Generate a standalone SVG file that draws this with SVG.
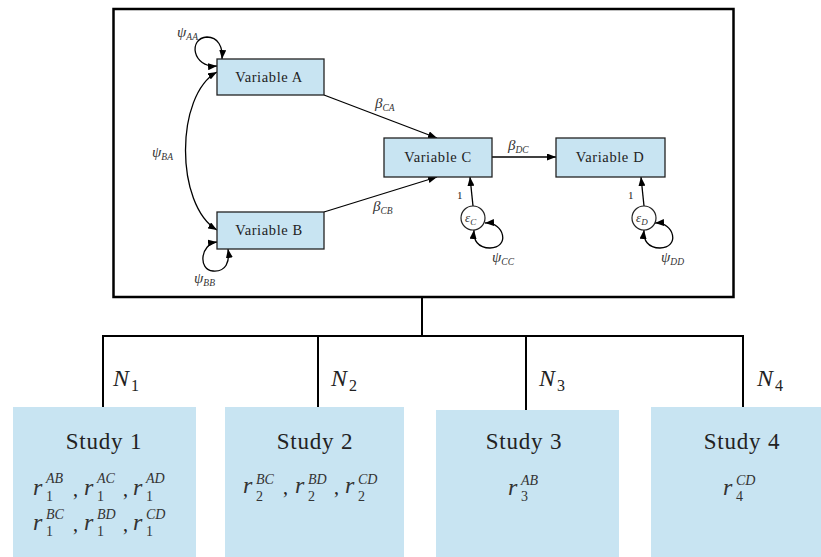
<svg xmlns="http://www.w3.org/2000/svg" width="821" height="557" viewBox="0 0 821 557">
  <defs>
    <marker id="arrow" viewBox="0 0 9 7" refX="9" refY="3.5" markerWidth="9" markerHeight="7" markerUnits="userSpaceOnUse" orient="auto-start-reverse">
      <path d="M0,0 L9,3.5 L0,7 z" fill="#000"/>
    </marker>
  </defs>
  <style>
    text { font-family: 'Liberation Serif', 'DejaVu Serif', 'Noto Serif', 'Noto Sans', serif; }
    .frame { fill: none; stroke: #000; stroke-width: 2.5; }
    .tree { fill: none; stroke: #000; stroke-width: 2; }
    .var rect { fill: #c8e4f2; stroke: #222; stroke-width: 1.3; }
    .var text { font-size: 14.5px; fill: #222; text-anchor: middle; letter-spacing: 0.6px; }
    .err circle { fill: #fff; stroke: #222; stroke-width: 1.2; }
    .edge { fill: none; stroke: #000; stroke-width: 1.3; }
    .arr { marker-end: url(#arrow); }
    .both { marker-start: url(#arrow); marker-end: url(#arrow); }
    .m { font-style: italic; fill: #333; }
    .g { font-size: 15px; }
    .s { font-size: 9.5px; }
    .one { font-size: 11px; fill: #222; }
    .study rect { fill: #c8e4f2; }
    .title { font-size: 23px; fill: #222; text-anchor: middle; letter-spacing: 0.8px; }
    .r { font-size: 24px; }
    .sup { font-size: 14px; }
    .sub { font-style: normal; font-size: 14px; }
    .comma { font-size: 20px; fill: #222; }
    .N { font-size: 24px; fill: #222; }
    .Ns { font-style: normal; font-size: 16px; fill: #222; }
  </style>

  <!-- path model frame -->
  <rect class="frame" x="113.5" y="9" width="620" height="288"/>

  <!-- connectors -->
  <g id="connectors">
    <line class="edge arr" x1="324" y1="95" x2="437" y2="138"/>
    <line class="edge arr" x1="324" y1="212" x2="437" y2="177"/>
    <line class="edge arr" x1="492" y1="157" x2="556" y2="157"/>
    <line class="edge arr" x1="473" y1="206" x2="470" y2="177"/>
    <line class="edge arr" x1="644" y1="206" x2="641" y2="177"/>
    <!-- covariance between A and B -->
    <path class="edge both" d="M217,72 C175,95 175,205 217,230"/>
    <!-- variance loops -->
    <path class="edge both" d="M217,66 C192,68 188,38 207,37 C218,37 223,47 222,59"/>
    <path class="edge both" d="M217,242 C200,244 198,270 213,271 C226,272 230,262 228,249"/>
    <path class="edge both" d="M485,223 C505,222 510,248 490,248 C478,248 473,240 474,230"/>
    <path class="edge both" d="M655,223 C675,222 680,248 660,248 C648,248 643,240 644,230"/>
    <!-- tree from the model to the studies -->
    <line class="tree" x1="422" y1="297" x2="422" y2="336"/>
    <line class="tree" x1="102" y1="336" x2="744" y2="336"/>
    <line class="tree" x1="103" y1="335" x2="103" y2="408"/>
    <line class="tree" x1="318" y1="335" x2="318" y2="408"/>
    <line class="tree" x1="526" y1="335" x2="526" y2="411"/>
    <line class="tree" x1="743" y1="335" x2="743" y2="408"/>
  </g>

  <!-- path labels -->
  <g id="path-labels">
    <text class="m g" x="177" y="37">ψ<tspan class="s" dy="3">AA</tspan></text>
    <text class="m g" x="152" y="157">ψ<tspan class="s" dy="3">BA</tspan></text>
    <text class="m g" x="194" y="283">ψ<tspan class="s" dy="3">BB</tspan></text>
    <text class="m g" x="492" y="262">ψ<tspan class="s" dy="3">CC</tspan></text>
    <text class="m g" x="661" y="262">ψ<tspan class="s" dy="3">DD</tspan></text>
    <text class="m g" x="375" y="108">β<tspan class="s" dy="3">CA</tspan></text>
    <text class="m g" x="373" y="211">β<tspan class="s" dy="3">CB</tspan></text>
    <text class="m g" x="508" y="150">β<tspan class="s" dy="3">DC</tspan></text>
    <text class="one" x="457" y="199">1</text>
    <text class="one" x="628" y="199">1</text>
  </g>

  <g id="var-a" class="var">
    <rect x="217" y="59" width="107" height="36"/>
    <text x="269" y="82">Variable A</text>
  </g>
  <g id="var-b" class="var">
    <rect x="217" y="212" width="107" height="37"/>
    <text x="269" y="235">Variable B</text>
  </g>
  <g id="var-c" class="var">
    <rect x="384" y="138" width="108" height="39"/>
    <text x="438" y="162">Variable C</text>
  </g>
  <g id="var-d" class="var">
    <rect x="556" y="138" width="109" height="39"/>
    <text x="610" y="162">Variable D</text>
  </g>

  <g id="err-c" class="err">
    <circle cx="473" cy="218" r="12"/>
    <text class="m" x="465" y="222" font-size="13">ε<tspan font-size="9" dy="3">C</tspan></text>
  </g>
  <g id="err-d" class="err">
    <circle cx="644" cy="218" r="12"/>
    <text class="m" x="636" y="222" font-size="13">ε<tspan font-size="9" dy="3">D</tspan></text>
  </g>

  <!-- sample size labels -->
  <g id="sample-sizes">
    <text class="m N" x="113" y="386">N</text><text class="Ns" x="131" y="391">1</text>
    <text class="m N" x="331" y="386">N</text><text class="Ns" x="349" y="391">2</text>
    <text class="m N" x="539" y="386">N</text><text class="Ns" x="557" y="391">3</text>
    <text class="m N" x="757" y="386">N</text><text class="Ns" x="775" y="391">4</text>
  </g>

  <g id="study-1" class="study">
    <rect x="13" y="407" width="183" height="150"/>
    <text class="title" x="104" y="449">Study 1</text>
    <text class="m r" x="33" y="495">r</text><text class="m sup" x="46" y="483">AB</text><text class="m sub" x="46" y="501">1</text><text class="comma" x="73" y="496">,</text>
    <text class="m r" x="84" y="495">r</text><text class="m sup" x="97" y="483">AC</text><text class="m sub" x="97" y="501">1</text><text class="comma" x="123" y="496">,</text>
    <text class="m r" x="133" y="495">r</text><text class="m sup" x="146" y="483">AD</text><text class="m sub" x="146" y="501">1</text>
    <text class="m r" x="33" y="530">r</text><text class="m sup" x="46" y="519">BC</text><text class="m sub" x="46" y="536">1</text><text class="comma" x="73" y="531">,</text>
    <text class="m r" x="84" y="530">r</text><text class="m sup" x="97" y="519">BD</text><text class="m sub" x="97" y="536">1</text><text class="comma" x="123" y="531">,</text>
    <text class="m r" x="133" y="530">r</text><text class="m sup" x="146" y="519">CD</text><text class="m sub" x="146" y="536">1</text>
  </g>

  <g id="study-2" class="study">
    <rect x="225" y="407" width="179" height="150"/>
    <text class="title" x="315" y="449">Study 2</text>
    <text class="m r" x="243" y="493">r</text><text class="m sup" x="256" y="484">BC</text><text class="m sub" x="256" y="501">2</text><text class="comma" x="283" y="494">,</text>
    <text class="m r" x="295" y="493">r</text><text class="m sup" x="308" y="484">BD</text><text class="m sub" x="308" y="501">2</text><text class="comma" x="334" y="494">,</text>
    <text class="m r" x="345" y="493">r</text><text class="m sup" x="358" y="484">CD</text><text class="m sub" x="358" y="501">2</text>
  </g>

  <g id="study-3" class="study">
    <rect x="436" y="410" width="183" height="147"/>
    <text class="title" x="524" y="449">Study 3</text>
    <text class="m r" x="508" y="495">r</text><text class="m sup" x="521" y="485">AB</text><text class="m sub" x="521" y="501">3</text>
  </g>

  <g id="study-4" class="study">
    <rect x="651" y="407" width="170" height="150"/>
    <text class="title" x="742" y="449">Study 4</text>
    <text class="m r" x="723" y="495">r</text><text class="m sup" x="736" y="485">CD</text><text class="m sub" x="736" y="501">4</text>
  </g>
</svg>
